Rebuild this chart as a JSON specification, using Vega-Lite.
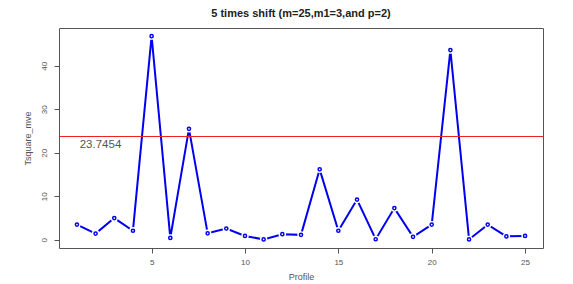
{
  "$schema": "https://vega.github.io/schema/vega-lite/v6.json",
  "width": 484,
  "height": 220,
  "autosize": {"type": "none"},
  "padding": {"left": 59, "top": 28, "right": 30, "bottom": 36},
  "background": "white",
  "title": {
    "text": "5 times shift (m=25,m1=3,and p=2)",
    "font": "Liberation Sans",
    "fontSize": 11,
    "fontWeight": "bold",
    "color": "#222",
    "offset": 9,
    "anchor": "middle"
  },
  "config": {
    "view": {"stroke": "#555", "strokeWidth": 1},
    "axis": {
      "grid": false,
      "domain": false,
      "tickColor": "#555",
      "tickSize": 5,
      "labelFont": "Liberation Sans",
      "labelFontSize": 8,
      "labelColor": "#555",
      "titleFont": "Liberation Sans",
      "titleFontSize": 9,
      "titleFontWeight": "normal",
      "titleColor": "#555"
    }
  },
  "datasets": {
    "pts": [
      {"Profile": 1, "T": 3.5},
      {"Profile": 2, "T": 1.45},
      {"Profile": 3, "T": 5.0},
      {"Profile": 4, "T": 2.1},
      {"Profile": 5, "T": 46.8},
      {"Profile": 6, "T": 0.45},
      {"Profile": 7, "T": 25.5},
      {"Profile": 8, "T": 1.5},
      {"Profile": 9, "T": 2.6},
      {"Profile": 10, "T": 0.9},
      {"Profile": 11, "T": 0.1},
      {"Profile": 12, "T": 1.3},
      {"Profile": 13, "T": 1.15},
      {"Profile": 14, "T": 16.2},
      {"Profile": 15, "T": 2.1},
      {"Profile": 16, "T": 9.25},
      {"Profile": 17, "T": 0.15},
      {"Profile": 18, "T": 7.3},
      {"Profile": 19, "T": 0.7},
      {"Profile": 20, "T": 3.5},
      {"Profile": 21, "T": 43.6},
      {"Profile": 22, "T": 0.1},
      {"Profile": 23, "T": 3.5},
      {"Profile": 24, "T": 0.8},
      {"Profile": 25, "T": 0.9}
    ],
    "ref": [{"y": 23.7454, "label": "23.7454", "lx": 1.15, "ly": 21.8}]
  },
  "layer": [
    {
      "data": {"name": "pts"},
      "mark": {"type": "line", "color": "#0000ee", "strokeWidth": 2},
      "encoding": {
        "x": {
          "field": "Profile", "type": "quantitative",
          "scale": {"domain": [0.04, 25.96], "nice": false, "zero": false},
          "axis": {"values": [5, 10, 15, 20, 25], "title": "Profile", "titlePadding": 6, "labelPadding": 5}
        },
        "y": {
          "field": "T", "type": "quantitative",
          "scale": {"domain": [-1.87, 48.67], "nice": false, "zero": false},
          "axis": {"values": [0, 10, 20, 30, 40], "title": "Tsquare_mve", "labelAngle": -90, "labelAlign": "center", "labelBaseline": "bottom", "labelPadding": 6, "titlePadding": 8}
        }
      }
    },
    {
      "data": {"name": "pts"},
      "mark": {"type": "point", "shape": "circle", "filled": true, "color": "white", "size": 55, "opacity": 1},
      "encoding": {
        "x": {"field": "Profile", "type": "quantitative"},
        "y": {"field": "T", "type": "quantitative"}
      }
    },
    {
      "data": {"name": "pts"},
      "mark": {"type": "point", "shape": "circle", "filled": false, "color": "#0000ee", "size": 10, "strokeWidth": 1.5, "opacity": 1},
      "encoding": {
        "x": {"field": "Profile", "type": "quantitative"},
        "y": {"field": "T", "type": "quantitative"}
      }
    },
    {
      "data": {"name": "ref"},
      "mark": {"type": "rule", "color": "#ee2222", "strokeWidth": 1.2},
      "encoding": {"y": {"field": "y", "type": "quantitative"}}
    },
    {
      "data": {"name": "ref"},
      "mark": {"type": "text", "align": "left", "baseline": "middle", "font": "Liberation Sans", "fontSize": 11.5, "color": "#555"},
      "encoding": {
        "x": {"field": "lx", "type": "quantitative"},
        "y": {"field": "ly", "type": "quantitative"},
        "text": {"field": "label"}
      }
    }
  ]
}
